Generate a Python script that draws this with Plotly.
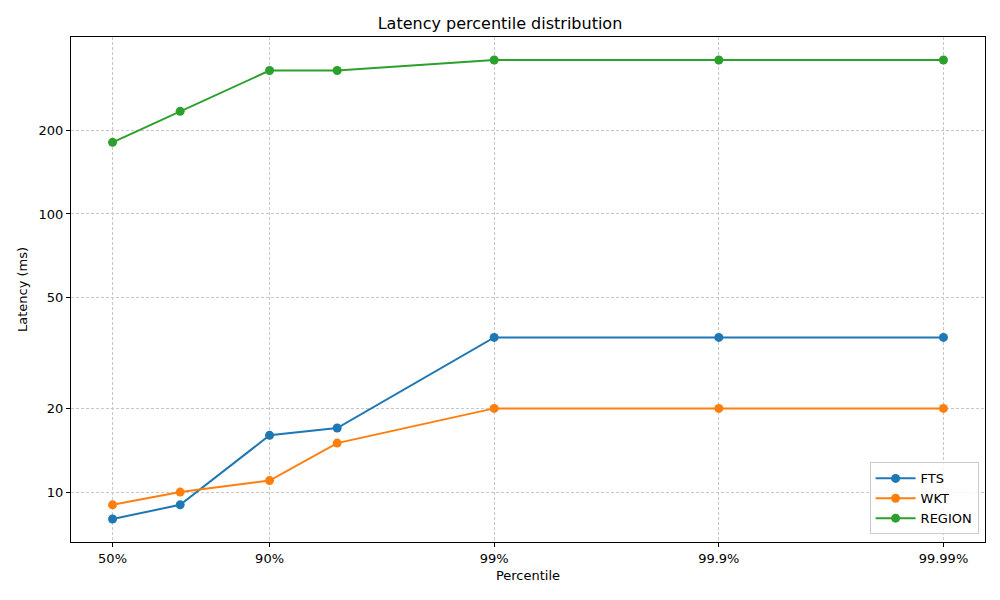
import plotly.graph_objects as go
import math

percentiles = [50, 75, 90, 95, 99, 99.9, 99.99]
fts = [8, 9, 16, 17, 36, 36, 36]
wkt = [9, 10, 11, 15, 20, 20, 20]
region = [181, 234, 328, 328, 358, 358, 358]

tick_percentiles = [50, 90, 99, 99.9, 99.99]
tick_labels = ["50%", "90%", "99%", "99.9%", "99.99%"]
y_ticks = [10, 20, 50, 100, 200]

def tail(p):
    return 1.0 / (1.0 - p / 100.0)

xs = [tail(p) for p in percentiles]
xt = [tail(p) for p in tick_percentiles]

colors = {"FTS": "#1f77b4", "WKT": "#ff7f0e", "REGION": "#2ca02c"}
fig = go.Figure()
for name, vals in [("FTS", fts), ("WKT", wkt), ("REGION", region)]:
    fig.add_trace(go.Scatter(
        x=xs, y=vals, name=name, mode="lines+markers",
        line=dict(color=colors[name], width=2),
        marker=dict(color=colors[name], size=9),
    ))

lx = [math.log10(v) for v in xs]
ly = [math.log10(v) for v in fts + wkt + region]
mx = 0.05 * (max(lx) - min(lx))
my = 0.05 * (max(ly) - min(ly))

fig.update_layout(
    width=1000, height=600,
    margin=dict(l=71, r=15, t=37, b=58),
    paper_bgcolor="white", plot_bgcolor="white",
    font=dict(family="DejaVu Sans", size=13, color="black"),
    title=dict(text="Latency percentile distribution", x=0.5, xanchor="center",
               y=1 - 23/600, yanchor="middle", font=dict(size=16)),
    showlegend=True,
    legend=dict(x=0.993, y=0.015, xanchor="right", yanchor="bottom",
                bgcolor="rgba(255,255,255,0.8)", bordercolor="#cccccc", borderwidth=1,
                font=dict(size=13), itemwidth=40, tracegroupgap=2),
)
common = dict(
    type="log",
    showgrid=True, gridcolor="#c8c8c8", gridwidth=1, griddash="3px,2px",
    showline=True, linecolor="black", linewidth=1, mirror=True,
    ticks="outside", ticklen=4, tickcolor="black", tickfont=dict(size=13),
    zeroline=False,
)
fig.update_xaxes(
    range=[min(lx) - mx, max(lx) + mx],
    tickvals=xt, ticktext=tick_labels,
    title=dict(text="Percentile", standoff=6, font=dict(size=13)), **common,
)
fig.update_yaxes(
    range=[min(ly) - my, max(ly) + my],
    tickvals=y_ticks, ticktext=[str(v) for v in y_ticks],
    title=dict(text="Latency (ms)", standoff=8, font=dict(size=13)), **common,
)
fig.write_html("out.html")
